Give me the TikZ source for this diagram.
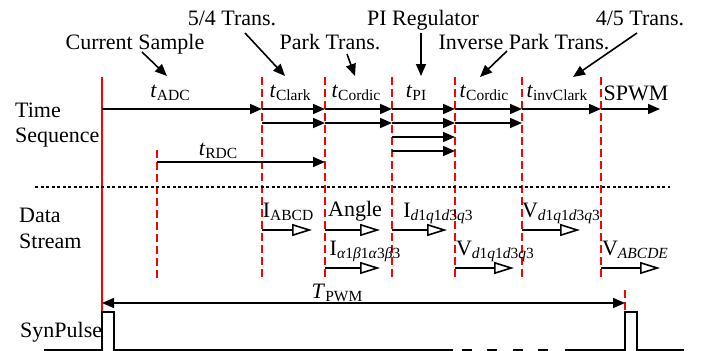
\documentclass[tikz,border=0pt]{standalone}
\usepackage{fontspec}
\setmainfont{Liberation Serif}
\usetikzlibrary{arrows.meta}
\newcommand{\sbs}[1]{\raisebox{-3pt}{\fontsize{15.5}{15.5}\selectfont #1}}
\begin{document}
\begin{tikzpicture}[x=1pt,y=-1pt,font=\fontsize{22}{24}\selectfont,
  redsolid/.style={red,line width=1.5pt},
  reddash/.style={red,line width=1.5pt,dash pattern=on 8pt off 4pt},
  blackdot/.style={black,line width=1.3pt,dash pattern=on 3pt off 2.5pt},
  tarrow/.style={-{Triangle[length=12pt,width=10pt]},line width=1.6pt},
  darrow/.style={-{Triangle[open,length=20pt,width=12pt]},line width=1.6pt},
  lbl/.style={anchor=base,inner sep=0pt},
  lblw/.style={anchor=base west,inner sep=0pt},
  pulse/.style={black,line width=1.5pt}]
\useasboundingbox (0,0) rectangle (702,351);
% coordinates
\foreach \n/\x in {0/102,1/157,2/262,3/325,4/392,5/455,6/522,7/601,8/660}{
  \foreach \r/\y in {a/109,b/123,c/137,d/151,e/162,f/230,g/268}{
    \coordinate (\r\n) at (\x,\y);}}
% left labels
\node[lblw] (lt1) at (15,117) {Time};
\node[lblw] (lt2) at (15,142) {Sequence};
\node[lblw] (ld1) at (19,222) {Data};
\node[lblw] (ld2) at (19,248) {Stream};
\node[lblw] (ls) at (20,337) {SynPulse};
% top labels
\node[lbl] (cs) at (135,49) {Current Sample};
\node[lbl] (t54) at (232,25) {5/4 Trans.};
\node[lbl] (pk) at (330,49) {Park Trans.};
\node[lbl] (pi) at (423,25) {PI Regulator};
\node[lbl] (ipk) at (524,49) {Inverse Park Trans.};
\node[lbl] (t45) at (640,25) {4/5 Trans.};
\coordinate (cs1) at (142,52); \coordinate (cs2) at (167,76);
\coordinate (p541) at (245,33); \coordinate (p542) at (285,76);
\coordinate (pk1) at (347,54); \coordinate (pk2) at (355,76);
\coordinate (pi1) at (421,33); \coordinate (pi2) at (421,76);
\coordinate (ip1) at (507,51); \coordinate (ip2) at (480,77);
\coordinate (p451) at (637,33); \coordinate (p452) at (573,77);
\foreach \a/\b in {cs1/cs2,p541/p542,pk1/pk2,pi1/pi2,ip1/ip2,p451/p452}
  \draw[tarrow] (\a) -- (\b);
% time labels
\node[lbl] (lADC) at (170,97) {\textit{t}\sbs{ADC}};
\node[lbl] (lClark) at (290,97) {\textit{t}\sbs{Clark}};
\node[lbl] (lCor1) at (356,97) {\textit{t}\sbs{Cordic}};
\node[lbl] (lPI) at (416,97) {\textit{t}\sbs{PI}};
\node[lbl] (lCor2) at (484,97) {\textit{t}\sbs{Cordic}};
\node[lbl] (linv) at (557,97) {\textit{t}\sbs{invClark}};
\node[lbl] (lspwm) at (636,100) {SPWM};
\node[lbl] (lRDC) at (218,155) {\textit{t}\sbs{RDC}};
% red lines
\draw[redsolid] (102,77) -- (102,312);
\draw[reddash] (157,150) -- (157,280);
\foreach \x in {262,325,392,455,522,601}
  \draw[reddash] (\x,77) -- (\x,277);
\draw[reddash] (625,290) -- (625,312);
% dotted separator
\draw[blackdot] (35,187) -- (670,187);
% time arrows
\foreach \p/\q in {a0/a2,a2/a3,a3/a4,a4/a5,a5/a6,a6/a7,a7/a8,
                   b2/b3,b3/b4,b4/b5,b5/b6,c4/c5,d4/d5,e1/e3}
  \draw[tarrow] (\p) -- (\q);
% data labels
\node[lbl] (dI1) at (288,217) {I\sbs{ABCD}};
\node[lbl] (dAng) at (355,216) {Angle};
\node[lbl] (dI2) at (438,217) {I\sbs{\textit{d}1\textit{q}1\textit{d}3\textit{q}3}};
\node[lbl] (dV1) at (561,217) {V\sbs{\textit{d}1\textit{q}1\textit{d}3\textit{q}3}};
\node[lbl] (dI3) at (365,255) {I\sbs{\textit{α}1\textit{β}1\textit{α}3\textit{β}3}};
\node[lbl] (dV2) at (495,255) {V\sbs{\textit{d}1\textit{q}1\textit{d}3\textit{q}3}};
\node[lbl] (dV3) at (635,255) {V\sbs{\textit{ABCDE}}};
% data arrows
\coordinate (fe2) at (312,230); \coordinate (fe3) at (380,230);
\coordinate (fe4) at (447,230); \coordinate (fe6) at (580,230);
\coordinate (ge3) at (380,268); \coordinate (ge5) at (514,268);
\coordinate (ge7) at (660,268);
\foreach \p/\q in {f2/fe2,f3/fe3,f4/fe4,f6/fe6,g3/ge3,g5/ge5,g7/ge7}
  \draw[darrow] (\p) -- (\q);
% T_PWM
\coordinate (tp1) at (102,303); \coordinate (tp2) at (625,303);
\draw[{Triangle[length=12pt,width=10pt]}-{Triangle[length=12pt,width=10pt]},line width=1.6pt] (tp1) -- (tp2);
\node[lbl] (lTP) at (337,298) {\textit{T}\sbs{PWM}};
% SynPulse
\draw[pulse] (44,350) -- (102,350) -- (102,312) -- (114,312) -- (114,350) -- (453,350);
\foreach \x in {462,487,513,538}
  \draw[pulse] (\x,350) -- (\x+10,350);
\draw[pulse] (565,350) -- (625,350) -- (625,312) -- (637,312) -- (637,350) -- (684,350);
\end{tikzpicture}
\end{document}
